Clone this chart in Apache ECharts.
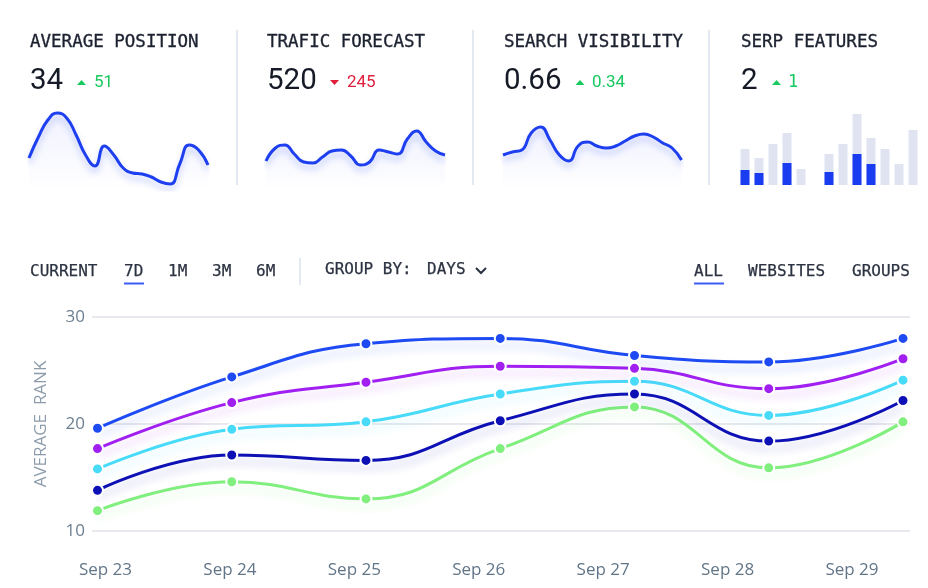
<!DOCTYPE html>
<html>
<head>
<meta charset="utf-8">
<style>
  html, body { margin: 0; padding: 0; background: #fff; }
  #chart { width: 928px; height: 588px; }
</style>
<script src="https://cdn.jsdelivr.net/npm/echarts@6/dist/echarts.min.js"></script>
</head>
<body>
<div id="chart"></div>
<script>
// KPI cards
const kpiTitles = ['AVERAGE POSITION', 'TRAFIC FORECAST', 'SEARCH VISIBILITY', 'SERP FEATURES']
const kpiValues = ['34', '520', '0.66', '2']
const kpiDeltas = ['51', '245', '0.34', '1']
const kpiUp = [true, false, true, true]

// sparklines (relative values, 0..90)
const sparkPosition = [32, 53, 70, 77, 72, 55, 35, 24, 44, 35, 22, 17, 16, 13, 8, 6, 26, 45, 40, 25]
const sparkTraffic = [29, 42, 45, 36, 28, 27, 33, 39, 40, 34, 25, 28, 40, 38, 36, 51, 59, 48, 39, 35]
const sparkVisibility = [35, 38, 40, 57, 63, 50, 35, 29, 44, 48, 44, 42, 44, 49, 54, 56, 53, 47, 42, 30]

// SERP features bars
const serpAll = [36, 27, 41, 52, 16, 0, 31, 41, 71, 47, 36, 21, 55]
const serpOwned = [15, 12, 0, 22, 0, 0, 13, 0, 31, 21, 0, 0, 0]

// toolbar
const periodTabs = ['CURRENT', '7D', '1M', '3M', '6M']
const viewTabs = ['ALL', 'WEBSITES', 'GROUPS']

// main chart
const days = ['Sep 23', 'Sep 24', 'Sep 25', 'Sep 26', 'Sep 27', 'Sep 28', 'Sep 29']
const rankBlue = [19.6, 24.4, 27.5, 28.0, 26.4, 25.8, 28.0]
const rankPurple = [17.7, 22.0, 23.9, 25.4, 25.2, 23.3, 26.1]
const rankCyan = [15.8, 19.5, 20.2, 22.8, 24.0, 20.8, 24.1]
const rankNavy = [13.8, 17.1, 16.6, 20.3, 22.8, 18.4, 22.2]
const rankGreen = [11.9, 14.6, 13.0, 17.7, 21.6, 15.9, 20.2]
const yTicks = [10, 20, 30]

const MONO = '"DejaVu Sans Mono", "Liberation Mono", monospace'
const SANS = 'Roboto, "Open Sans", sans-serif'
const GREEN = '#18c95f'
const RED = '#e01e3c'
const SPARK = '#1d3ff0'

const chart = echarts.init(document.getElementById('chart'))

// layout
const panelX = [30, 267, 504, 741]
const triX = [81.5, 334.5, 580, 776.5]
const deltaX = [94, 347, 592, 788]
const sparkLeft = [29, 266, 503]
const periodX = [30, 124, 168, 212, 256]
const viewX = [694, 748, 852]

const graphics = []
kpiTitles.forEach((t, i) => {
  graphics.push({
    type: 'text', x: panelX[i], y: 42,
    style: { text: t, font: '17.5px ' + MONO, fill: '#1c2130', stroke: '#1c2130', lineWidth: 0.35, textVerticalAlign: 'middle' }
  })
  graphics.push({
    type: 'text', x: panelX[i], y: 82,
    style: { text: kpiValues[i], font: '29.5px ' + SANS, fill: '#151a26', textVerticalAlign: 'middle' }
  })
  const cx = triX[i]
  const cy = 82.5
  const pts = kpiUp[i]
    ? [[cx - 4.5, cy + 2.5], [cx + 4.5, cy + 2.5], [cx, cy - 2.5]]
    : [[cx - 4.5, cy - 2.5], [cx + 4.5, cy - 2.5], [cx, cy + 2.5]]
  graphics.push({
    type: 'polygon', shape: { points: pts },
    style: { fill: kpiUp[i] ? GREEN : RED }
  })
  graphics.push({
    type: 'text', x: deltaX[i], y: 83,
    style: {
      text: kpiDeltas[i],
      font: (i === 3 ? '17px ' + MONO : '17px ' + SANS),
      fill: kpiUp[i] ? GREEN : RED,
      textVerticalAlign: 'middle'
    }
  })
  if (i < 3) {
    graphics.push({
      type: 'line', shape: { x1: 237 * (i + 1) - i, y1: 30, x2: 237 * (i + 1) - i, y2: 185 },
      style: { stroke: '#e3e8f1', lineWidth: 2 }
    })
  }
})

periodTabs.forEach((t, i) => {
  graphics.push({
    type: 'text', x: periodX[i], y: 271.5,
    style: { text: t, font: '16px ' + MONO, fill: '#2b3241', stroke: '#2b3241', lineWidth: 0.25, textVerticalAlign: 'middle' }
  })
})
graphics.push({ type: 'rect', shape: { x: 124, y: 282.5, width: 20, height: 2 }, style: { fill: '#3a5cf5' } })
graphics.push({ type: 'line', shape: { x1: 300, y1: 258, x2: 300, y2: 285 }, style: { stroke: '#e3e8f1', lineWidth: 2 } })
graphics.push({
  type: 'text', x: 325, y: 270,
  style: { text: 'GROUP BY:', font: '16px ' + MONO, fill: '#2b3241', stroke: '#2b3241', lineWidth: 0.25, textVerticalAlign: 'middle' }
})
graphics.push({
  type: 'text', x: 427, y: 270,
  style: { text: 'DAYS', font: '16px ' + MONO, fill: '#2b3241', stroke: '#2b3241', lineWidth: 0.25, textVerticalAlign: 'middle' }
})
graphics.push({
  type: 'polyline', shape: { points: [[476, 268], [481, 273], [486, 268]] },
  style: { stroke: '#2b3241', lineWidth: 2, fill: null }
})
viewTabs.forEach((t, i) => {
  graphics.push({
    type: 'text', x: viewX[i], y: 271.5,
    style: { text: t, font: '16px ' + MONO, fill: '#2b3241', stroke: '#2b3241', lineWidth: 0.25, textVerticalAlign: 'middle' }
  })
})
graphics.push({ type: 'rect', shape: { x: 694, y: 282.5, width: 30, height: 2 }, style: { fill: '#3a5cf5' } })

const hexA = (hex, a) => {
  const n = parseInt(hex.slice(1), 16)
  return `rgba(${(n >> 16) & 255},${(n >> 8) & 255},${n & 255},${a})`
}

const sparkSeries = (data, idx) => ({
  type: 'line',
  xAxisIndex: idx,
  yAxisIndex: idx,
  data: data,
  smooth: 0.5,
  symbol: 'none',
  lineStyle: { color: SPARK, width: 3, shadowColor: 'rgba(29,63,240,0.25)', shadowBlur: 6, shadowOffsetY: 5 },
  areaStyle: {
    color: new echarts.graphic.LinearGradient(0, 0, 0, 1, [
      { offset: 0, color: 'rgba(80,100,240,0.12)' },
      { offset: 1, color: 'rgba(80,100,240,0)' }
    ])
  }
})

const rankSeries = (name, data, color) => ({
  name: name,
  type: 'line',
  xAxisIndex: 0,
  yAxisIndex: 0,
  data: data,
  smooth: 0.45,
  symbol: 'circle',
  symbolSize: 11,
  itemStyle: { color: color, borderColor: '#fff', borderWidth: 2 },
  lineStyle: { color: color, width: 3, shadowColor: hexA(color, 0.22), shadowBlur: 8, shadowOffsetY: 7 },
  z: 3
})

const hiddenCat = (grid, data) => ({ type: 'category', gridIndex: grid, data: data, show: false, boundaryGap: false })
const hiddenVal = (grid, min, max) => ({ type: 'value', gridIndex: grid, min: min, max: max, show: false, splitLine: { show: false } })

const sparkCats = sparkPosition.map((v, i) => i)

chart.setOption({
  animation: false,
  backgroundColor: '#fff',
  grid: [
    { left: 97.5, right: 25, top: 317, bottom: 57 },
    { left: 92, right: 18, top: 317, bottom: 57 },
    { left: 105.5, right: 76, top: 317, bottom: 57 },
    { left: sparkLeft[0], width: 179, top: 100, height: 90 },
    { left: sparkLeft[1], width: 179, top: 100, height: 90 },
    { left: sparkLeft[2], width: 178.5, top: 100, height: 90 },
    { left: 738, width: 182, top: 114, height: 71 }
  ],
  xAxis: [
    hiddenCat(0, days),
    hiddenCat(1, days),
    {
      type: 'category',
      gridIndex: 2,
      data: days,
      boundaryGap: false,
      axisLine: { show: false },
      axisTick: { show: false },
      axisLabel: { margin: 31, fontSize: 17, fontFamily: '"Open Sans", sans-serif', color: '#627588' }
    },
    hiddenCat(3, sparkCats),
    hiddenCat(4, sparkCats),
    hiddenCat(5, sparkCats),
    { type: 'category', gridIndex: 6, data: serpAll.map((v, i) => i), show: false, boundaryGap: true }
  ],
  yAxis: [
    hiddenVal(0, 10, 30),
    {
      type: 'value',
      gridIndex: 1,
      min: yTicks[0],
      max: yTicks[yTicks.length - 1],
      interval: 10,
      name: 'AVERAGE  RANK',
      nameLocation: 'middle',
      nameGap: 42,
      nameTextStyle: { fontSize: 17, fontFamily: '"Open Sans", sans-serif', color: '#8d9cab' },
      axisLine: { show: false },
      axisTick: { show: false },
      axisLabel: { margin: 7, fontSize: 17, fontFamily: '"Open Sans", sans-serif', color: '#6c7f90' },
      splitLine: { lineStyle: { color: '#dfe2e8', width: 1.5 } }
    },
    hiddenVal(2, 10, 30),
    hiddenVal(3, 0, 90),
    hiddenVal(4, 0, 90),
    hiddenVal(5, 0, 90),
    hiddenVal(6, 0, 71)
  ],
  series: [
    sparkSeries(sparkPosition, 3),
    sparkSeries(sparkTraffic, 4),
    sparkSeries(sparkVisibility, 5),
    {
      type: 'bar',
      xAxisIndex: 6,
      yAxisIndex: 6,
      data: serpAll,
      barWidth: 9,
      barGap: '-100%',
      itemStyle: { color: '#dfe4f0' }
    },
    {
      type: 'bar',
      xAxisIndex: 6,
      yAxisIndex: 6,
      data: serpOwned,
      barWidth: 9,
      barGap: '-100%',
      itemStyle: { color: '#1a3cf0' }
    },
    rankSeries('Green', rankGreen, '#80ef7e'),
    rankSeries('Navy', rankNavy, '#0d10b4'),
    rankSeries('Cyan', rankCyan, '#48dbf9'),
    rankSeries('Purple', rankPurple, '#a11ff0'),
    rankSeries('Blue', rankBlue, '#1d4af3')
  ],
  graphic: graphics
})
</script>
</body>
</html>
